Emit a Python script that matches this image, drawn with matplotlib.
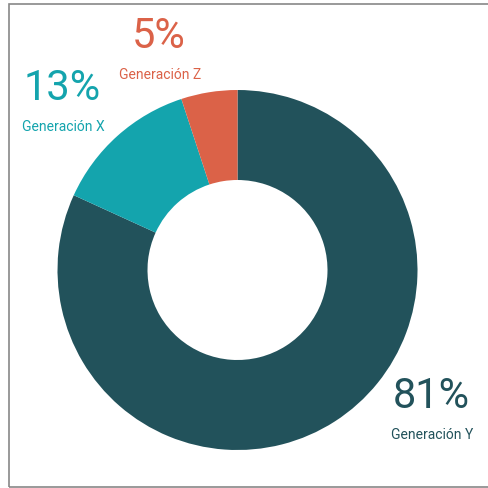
import matplotlib
matplotlib.use("Agg")
import matplotlib.pyplot as plt
from matplotlib.patches import Rectangle

labels = ["Generación Y", "Generación X", "Generación Z"]
values = [81, 13, 5]
pcts = ["81%", "13%", "5%"]
colors = ["#22525b", "#14a4ad", "#db6248"]
# label anchor positions in pixel coords (x, y from top)
label_pos = [(431, 397), (62, 89), (159, 37)]

W, H = 489, 488
fig = plt.figure(figsize=(W / 100, H / 100), dpi=100)
fig.patch.set_facecolor("white")

# donut: centre (237.5, 270), radius 180 px
cx, cy, r = 237.5, 270, 180
ax = fig.add_axes([(cx - r) / W, 1 - (cy + r) / H, 2 * r / W, 2 * r / H])
ax.pie(values, colors=colors, startangle=90, counterclock=False,
       wedgeprops=dict(width=0.5, linewidth=0))
ax.set_aspect("equal")
ax.set_xlim(-1, 1)
ax.set_ylim(-1, 1)
ax.axis("off")

for lab, p, c, (x, y) in zip(labels, pcts, colors, label_pos):
    fig.text(x / W, 1 - y / H, p, color=c, fontsize=30, family="Roboto",
             fontweight="normal", ha="center", va="center")
    fig.text((x + 1) / W, 1 - (y + 38) / H, lab, color=c, fontsize=10,
             family="Roboto", ha="center", va="center")

# thin grey frame (right edge falls outside the image)
fig.add_artist(Rectangle((8.5 / W, 1 - 487 / H), 500 / W, (487 - 4) / H,
                         transform=fig.transFigure, fill=False,
                         edgecolor="#888888", linewidth=1.2))

fig.savefig("out.png", dpi=100)
